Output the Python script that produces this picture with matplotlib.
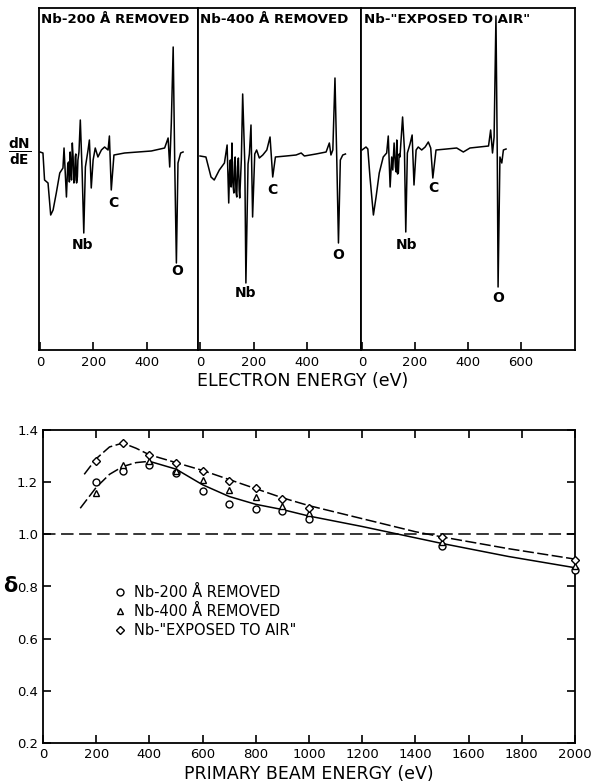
import matplotlib
matplotlib.use("Agg")
import matplotlib.pyplot as plt

plt.rcParams['font.family'] = ['DejaVu Sans']
plt.rcParams['mathtext.fontset'] = 'dejavusans'
plt.rcParams['lines.scale_dashes'] = False

# ---------------- data: Auger spectra (energy eV, dN/dE arbitrary units) ----------------
spec1_E = [0, 11, 17, 30, 40, 49, 61, 74, 86, 90, 99, 104, 107, 110, 113, 115, 118, 121, 124, 127,
           130, 132, 134, 137, 140, 142, 146, 151, 158, 164, 170, 180, 185, 192, 199, 207, 217, 230,
           242, 255, 260, 267, 277, 317, 367, 417, 467, 480, 486, 492, 499, 505, 511, 517, 527, 536]
spec1_S = [0, -1, -28, -31, -63, -58, -41, -21, -16, 4, -45, -12, -10, -30, 0, -14, -28, 9, -5, -31,
           -28, -5, -2, -31, -25, -8, 0, 32, -21, -81, -15, 2, 12, -36, -8, 4, -5, 2,
           5, 2, 16, -38, -3, -1, 0, 1, 4, 14, -15, 29, 105, -15, -111, -11, -1, 0]

spec2_E = [0, 22, 41, 53, 72, 91, 101, 107, 110, 113, 116, 119, 122, 126, 129, 131, 134, 137, 140, 143,
           146, 148, 154, 159, 167, 171, 179, 184, 190, 196, 204, 211, 221, 234, 249, 261, 271, 281,
           321, 358, 377, 389, 432, 470, 482, 488, 495, 503, 510, 516, 523, 532, 542]
spec2_S = [-4, -5, -25, -28, -18, -11, 7, -51, -20, -8, -35, 9, -30, -41, -10, -5, -40, -45, -15, -6,
           -38, -46, -8, 58, -12, -131, -12, -2, 27, -65, -2, 2, -6, -3, 2, 15, -25, -5,
           -4, -3, -1, -4, -2, 0, 9, -3, 2, 74, -11, -91, -8, -3, -2]

spec3_E = [0, 15, 22, 30, 43, 53, 65, 80, 93, 99, 106, 112, 116, 121, 126, 129, 131, 134, 137, 140,
           143, 148, 153, 160, 165, 171, 181, 189, 196, 204, 212, 225, 238, 250, 259, 267, 279, 319,
           357, 382, 407, 477, 485, 492, 498, 505, 510, 513, 520, 527, 533, 543]
spec3_S = [2, 5, 3, -25, -63, -45, -21, -5, -1, 16, -35, -5, -18, 9, -15, -20, 12, -22, -21, -2,
           -5, 15, 35, 2, -80, -1, 8, 17, -33, 2, 5, 2, 5, 10, 4, -26, 2, 3,
           4, 0, 4, 6, 22, -1, 15, 136, -5, -135, -5, -11, 2, 3]

panel_titles = ['Nb-200 Å REMOVED', 'Nb-400 Å REMOVED', 'Nb-"EXPOSED TO AIR"']
panel_ticks = [[0, 200, 400], [0, 200, 400], [0, 200, 400, 600]]
# peak labels: (text, energy, value)
peak_labels = [
    [('Nb', 161, -93), ('C', 274, -51), ('O', 514, -119)],
    [('Nb', 168, -141), ('C', 269, -38), ('O', 515, -103)],
    [('Nb', 166, -93), ('C', 268, -36), ('O', 513, -146)],
]

# ---------------- data: secondary emission yield ----------------
beam_E = [200, 300, 400, 500, 600, 700, 800, 900, 1000, 1500, 2000]
delta_200 = [1.20, 1.243, 1.264, 1.236, 1.167, 1.116, 1.099, 1.089, 1.06, 0.955, 0.865]
delta_400 = [1.16, 1.266, 1.281, 1.243, 1.207, 1.170, 1.142, 1.108, 1.08, 0.97, 0.877]
delta_air = [1.281, 1.351, 1.304, 1.275, 1.243, 1.205, 1.176, 1.135, 1.10, 0.99, 0.903]

upper_curve_E = [155, 200, 250, 300, 350, 400, 500, 600, 700, 800, 900, 1000, 1200, 1400, 1500, 1750, 2000]
upper_curve_V = [1.23, 1.29, 1.335, 1.35, 1.33, 1.305, 1.275, 1.245, 1.21, 1.175, 1.14, 1.11, 1.06, 1.01, 0.99, 0.945, 0.905]
lower_curve_E = [140, 200, 250, 300, 350, 400, 500, 600, 700, 800, 900, 1000, 1200, 1500, 1750, 2000]
lower_curve_V = [1.10, 1.18, 1.23, 1.26, 1.275, 1.28, 1.25, 1.19, 1.145, 1.115, 1.095, 1.07, 1.03, 0.965, 0.915, 0.872]

legend_labels = ['Nb-200 Å REMOVED', 'Nb-400 Å REMOVED', 'Nb-"EXPOSED TO AIR"']
x_ticks_bottom = [0, 200, 400, 600, 800, 1000, 1200, 1400, 1600, 1800, 2000]
y_ticks_bottom = [0.2, 0.4, 0.6, 0.8, 1.0, 1.2, 1.4]

# ---------------- figure ----------------
W, H = 594, 782
fig = plt.figure(figsize=(W / 100, H / 100), dpi=100)


def ax_px(l, t, r, b):
    return fig.add_axes([l / W, 1 - b / H, (r - l) / W, (b - t) / H])


panels = [
    (39, 198, (-3.8, 592), spec1_E, spec1_S),
    (198, 361, (-7.5, 600), spec2_E, spec2_S),
    (361, 575, (-3.8, 803), spec3_E, spec3_S),
]
for i, (l, r, xl, E, S) in enumerate(panels):
    ax = ax_px(l, 8, r, 350)
    ax.plot(E, S, color='black', lw=1.1)
    ax.set_xlim(*xl)
    ax.set_ylim(-198, 144)
    ax.set_yticks([])
    ax.set_xticks(panel_ticks[i])
    ax.tick_params(axis='x', direction='in', length=5.5, width=1.2, labelsize=9.5, pad=4)
    for sp in ax.spines.values():
        sp.set_linewidth(1.3)
    ax.text(0.012, 0.985, panel_titles[i], transform=ax.transAxes, ha='left', va='top',
            fontsize=9.6, fontweight='bold')
    for txt, e, v in peak_labels[i]:
        ax.text(e, v, txt, ha='center', va='center', fontsize=10, fontweight='bold')

fig.text(20 / W, 1 - 152 / H, r'$\frac{\mathbf{dN}}{\mathbf{dE}}$', ha='center', va='center', fontsize=14)
fig.text(303 / W, 1 - 381 / H, 'ELECTRON ENERGY (eV)', ha='center', va='center', fontsize=12.5)

# ---------------- bottom chart ----------------
ax = ax_px(43, 430, 575, 743)
ax.set_xlim(0, 2000)
ax.set_ylim(0.2, 1.4)
ax.axhline(1.0, color='black', lw=1.1, linestyle=(0, (9, 4)))

ax.plot(upper_curve_E, upper_curve_V, color='black', lw=1.1, linestyle=(0, (8, 2.5)))
dashed_part = [k for k, e in enumerate(lower_curve_E) if e <= 400]
solid_part = [k for k, e in enumerate(lower_curve_E) if e >= 400]
ax.plot([lower_curve_E[k] for k in dashed_part], [lower_curve_V[k] for k in dashed_part],
        color='black', lw=1.1, linestyle=(0, (8, 2.5)))
ax.plot([lower_curve_E[k] for k in solid_part], [lower_curve_V[k] for k in solid_part],
        color='black', lw=1.1)

mk = dict(linestyle='none', mfc='white', mec='black', mew=1.0, clip_on=False, zorder=5)
h1, = ax.plot(beam_E, delta_200, marker='o', ms=5, **mk)
h2, = ax.plot(beam_E, delta_400, marker='^', ms=5, **mk)
h3, = ax.plot(beam_E, delta_air, marker='D', ms=4.5, **mk)

ax.set_xticks(x_ticks_bottom)
ax.set_yticks(y_ticks_bottom)
ax.set_xticklabels([str(t) for t in x_ticks_bottom])
ax.set_yticklabels([f'{t:.1f}' for t in y_ticks_bottom])
ax.tick_params(direction='in', length=6, width=1.2, labelsize=9.5, top=True, right=True)
for sp in ax.spines.values():
    sp.set_linewidth(1.3)
ax.set_xlabel('PRIMARY BEAM ENERGY (eV)', fontsize=12.5, labelpad=3)
ax.set_ylabel('δ', fontsize=15, fontweight='bold', rotation=0, labelpad=5, va='center')

ax.legend([h1, h2, h3], legend_labels, loc='center left', bbox_to_anchor=(0.122, 0.42),
          frameon=False, fontsize=10.5, handlelength=0.8, handletextpad=0.6,
          labelspacing=0.3, borderaxespad=0)

fig.savefig('out.png', dpi=100)
